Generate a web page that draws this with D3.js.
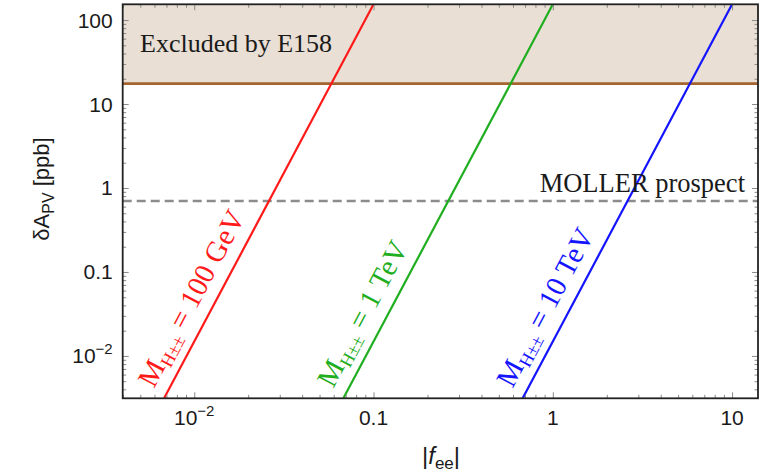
<!DOCTYPE html>
<html>
<head>
<meta charset="utf-8">
<script src="https://cdn.jsdelivr.net/npm/d3@7/dist/d3.min.js"></script>
<style>
  html, body { margin: 0; padding: 0; background: #fff; }
  svg { display: block; }
</style>
</head>
<body>
<svg id="chart" width="771" height="472"></svg>
<script>
// Doubly charged Higgs contribution to the parity-violating asymmetry
// versus the Yukawa coupling |f_ee|, for three masses.
const masses = ["100 GeV", "1 TeV", "10 TeV"];
const massColors = ["#ff1a1a", "#1fae1f", "#1414ff"];
// end points (|f_ee|, δA_PV) of each straight line on the log-log plane
const curveRed   = [[0.0068, 0.00315], [0.1, 154]];
const curveGreen = [[0.068, 0.00315], [1.0, 154]];
const curveBlue  = [[0.68, 0.00315], [10, 154]];
const curves = [curveRed, curveGreen, curveBlue];

const e158Limit = 17.5;       // ppb, excluded above
const mollerProspect = 0.7;   // ppb

const xMajor = [0.01, 0.1, 1, 10];
const xMajorLabels = [["10", "−2"], ["0.1"], ["1"], ["10"]];
const yMajor = [0.01, 0.1, 1, 10, 100];
const yMajorLabels = [["10", "−2"], ["0.1"], ["1"], ["10"], ["100"]];

const W = 771, H = 472;
const m = { left: 122.7, top: 4.3, right: 13, bottom: 73.7 };
const iw = W - m.left - m.right, ih = H - m.top - m.bottom;

const x = d3.scaleLog().domain([0.00399, 13.95]).range([0, iw]);
const y = d3.scaleLog().domain([0.00313, 154]).range([ih, 0]);

const svg = d3.select("#chart");
const g = svg.append("g").attr("transform", `translate(${m.left},${m.top})`);

svg.append("defs").append("clipPath").attr("id", "plotClip")
  .append("rect").attr("width", iw).attr("height", ih);

const plot = g.append("g").attr("clip-path", "url(#plotClip)");

// excluded region above the E158 bound
plot.append("rect")
  .attr("x", 0).attr("y", 0)
  .attr("width", iw).attr("height", y(e158Limit))
  .attr("fill", "#e9dfd5");

// minor tick values per decade
function minors(scale) {
  const [a, b] = scale.domain();
  const out = [];
  for (let e = Math.floor(Math.log10(a)); e <= Math.ceil(Math.log10(b)); e++) {
    for (let k = 2; k <= 9; k++) {
      const v = k * Math.pow(10, e);
      if (v >= a && v <= b) out.push(v);
    }
  }
  return out;
}

const tickColor = "#8a8a8a";
function drawAxis(axis, transform) {
  const a = g.append("g").attr("transform", transform).call(axis);
  a.select(".domain").remove();
  a.selectAll("line").attr("stroke", tickColor).attr("stroke-width", 1);
  a.selectAll("text").remove();
}
// inward ticks on all four sides
drawAxis(d3.axisBottom(x).tickValues(xMajor).tickSize(-6), `translate(0,${ih})`);
drawAxis(d3.axisBottom(x).tickValues(minors(x)).tickSize(-3.5), `translate(0,${ih})`);
drawAxis(d3.axisTop(x).tickValues(xMajor).tickSize(-6), `translate(0,0)`);
drawAxis(d3.axisTop(x).tickValues(minors(x)).tickSize(-3.5), `translate(0,0)`);
drawAxis(d3.axisLeft(y).tickValues(yMajor).tickSize(-6), `translate(0,0)`);
drawAxis(d3.axisLeft(y).tickValues(minors(y)).tickSize(-3.5), `translate(0,0)`);
drawAxis(d3.axisRight(y).tickValues(yMajor).tickSize(-6), `translate(${iw},0)`);
drawAxis(d3.axisRight(y).tickValues(minors(y)).tickSize(-3.5), `translate(${iw},0)`);

// E158 bound
plot.append("line")
  .attr("x1", 0).attr("x2", iw)
  .attr("y1", y(e158Limit)).attr("y2", y(e158Limit))
  .attr("stroke", "#a5632f").attr("stroke-width", 2.6);

// MOLLER prospect
plot.append("line")
  .attr("x1", 0).attr("x2", iw)
  .attr("y1", y(mollerProspect)).attr("y2", y(mollerProspect))
  .attr("stroke", "#8c8c8c").attr("stroke-width", 2.6)
  .attr("stroke-dasharray", "9,5");

// mass lines
const line = d3.line().x(d => x(d[0])).y(d => y(d[1]));
curves.forEach((c, i) => {
  plot.append("path").datum(c)
    .attr("d", line)
    .attr("fill", "none")
    .attr("stroke", massColors[i])
    .attr("stroke-width", 2.2);
});

// frame
g.append("rect")
  .attr("width", iw).attr("height", ih)
  .attr("fill", "none").attr("stroke", "#222").attr("stroke-width", 1.8);

const serif = "'Liberation Serif', 'Times New Roman', serif";
const sans = "'Liberation Sans', Arial, sans-serif";

g.append("text")
  .attr("x", 140 - m.left).attr("y", 52 - m.top)
  .attr("font-family", serif).attr("font-size", 26).attr("fill", "#1a1a1a")
  .text("Excluded by E158");

g.append("text")
  .attr("x", 745 - m.left).attr("y", 192 - m.top)
  .attr("text-anchor", "end")
  .attr("font-family", serif).attr("font-size", 26.5).attr("fill", "#1a1a1a")
  .text("MOLLER prospect");

// labels running alongside each mass line, starting near the bottom
const px0 = x(curveRed[0][0]), py0 = y(curveRed[0][1]);
const px1 = x(curveRed[1][0]), py1 = y(curveRed[1][1]);
const angle = Math.atan2(py1 - py0, px1 - px0) * 180 / Math.PI;
curves.forEach((c, i) => {
  const ly = 389 - m.top;
  const t = (ly - y(c[0][1])) / (y(c[1][1]) - y(c[0][1]));
  const lx = x(c[0][0]) + t * (x(c[1][0]) - x(c[0][0])) - 15;
  const txt = g.append("text")
    .attr("transform", `translate(${lx},${ly}) rotate(${angle})`)
    .attr("text-anchor", "start")
    .attr("font-family", serif).attr("font-size", 29)
    .attr("fill", massColors[i]);
  txt.append("tspan").text("M");
  txt.append("tspan").attr("font-size", 18).attr("dy", 5).text("H±±");
  txt.append("tspan").attr("dy", -5).text(" = " + masses[i]);
});

// tick labels
function tickLabel(sel, parts) {
  sel.append("tspan").text(parts[0]);
  if (parts[1]) sel.append("tspan").attr("font-size", 15).attr("dy", -9).text(parts[1]);
}
xMajor.forEach((v, i) => {
  const t = g.append("text")
    .attr("x", x(v)).attr("y", ih + 27)
    .attr("text-anchor", "middle")
    .attr("font-family", sans).attr("font-size", 21).attr("fill", "#1a1a1a");
  tickLabel(t, xMajorLabels[i]);
});
yMajor.forEach((v, i) => {
  const t = g.append("text")
    .attr("x", -10).attr("y", y(v) + 7.5)
    .attr("text-anchor", "end")
    .attr("font-family", sans).attr("font-size", 21).attr("fill", "#1a1a1a");
  tickLabel(t, yMajorLabels[i]);
});

// axis titles
const xt = svg.append("text")
  .attr("x", 441).attr("y", 464)
  .attr("text-anchor", "middle")
  .attr("font-family", sans).attr("font-size", 24).attr("fill", "#1a1a1a");
xt.append("tspan").text("|");
xt.append("tspan").attr("font-style", "italic").text("f");
xt.append("tspan").attr("font-size", 17).attr("dy", 5).text("ee");
xt.append("tspan").attr("dy", -5).text("|");

const yt = svg.append("text")
  .attr("transform", "translate(49,189) rotate(-90)")
  .attr("text-anchor", "middle")
  .attr("font-family", sans).attr("font-size", 22).attr("fill", "#1a1a1a");
yt.append("tspan").text("δA");
yt.append("tspan").attr("font-size", 16).attr("dy", 5).text("PV");
yt.append("tspan").attr("dy", -5).text(" [ppb]");
</script>
</body>
</html>
